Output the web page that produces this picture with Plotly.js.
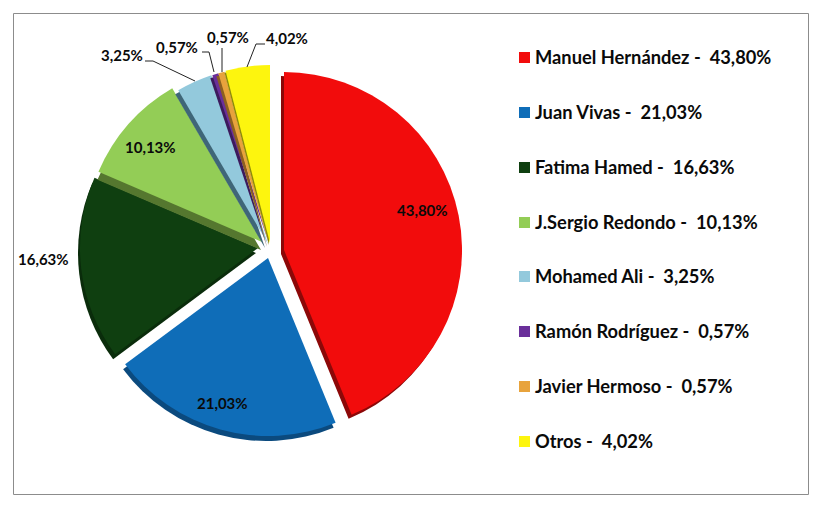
<!DOCTYPE html>
<html><head><meta charset="utf-8">
<script src="https://cdn.plot.ly/plotly-3.0.1.min.js"></script>
<style>html,body{margin:0;padding:0;background:#fff}#c{width:823px;height:511px}</style>
</head><body><div id="c"></div>
<script>
var W = 823, H = 511;
var names = ["Manuel Hernández","Juan Vivas","Fatima Hamed","J.Sergio Redondo","Mohamed Ali","Ramón Rodríguez","Javier Hermoso","Otros"];
var values = [43.80,21.03,16.63,10.13,3.25,0.57,0.57,4.02];
var colors = ["#f20c0c","#0f6db8","#0f3f10","#93cd56","#93c9dc","#6a2f9a","#e8a33c","#fdf50e"];
var shades = ["#8c0808","#0b4a7e","#0a2c0b","#55772f","#3f6678","#3c1a5c","#8c6020","#8f8a08"];
var centerX = [284,268,258,262,268,269,269,270];
var centerY = [250,258,248,242,244,244,244,243];
var shadowDX = [-3,-2,-2,-1,-3,-2,-2,-1];
var shadowDY = [4,5,5,8,4,3,3,2];
var labelX = [423,222,43,150,122,177,228,287];
var labelY = [210,403,259,147,55,47,37,38];
var legendY = [57,112,167,222,276,331,386,441];
var leaders = [null,null,null,null,
  [[145,61],[153,61],[195,81]],
  [[202,52],[209,52],[214,72]],
  [[222,48],[222,72]],
  [[265,44],[256,44],[247,67]]];

function fmt(v){ return v.toFixed(2).replace(".", ",") + "%"; }
function px(x){ return x / W; }
function py(y){ return 1 - y / H; }

var size = 356;
function dom(x, y){
  return {x:[px(x-size/2), px(x+size/2)], y:[py(y+size/2), py(y-size/2)]};
}
function slice(i, palette, x, y){
  var cols = names.map(function(n,k){ return k===i ? palette[i] : "rgba(0,0,0,0)"; });
  return {type:"pie", labels:names, values:values, sort:false, direction:"clockwise", rotation:0,
    textinfo:"none", hoverinfo:"skip", showlegend:false,
    marker:{colors:cols, line:{width:0}}, domain:dom(x,y)};
}

var traces = [], annotations = [], shapes = [];
shapes.push({type:"rect", xref:"paper", yref:"paper", x0:px(13.5), x1:px(808.5), y0:py(494.5), y1:py(13.5),
  line:{color:"#8c8c8c", width:1}, fillcolor:"rgba(0,0,0,0)"});
names.forEach(function(n,i){
  traces.push(slice(i, shades, centerX[i]+shadowDX[i], centerY[i]+shadowDY[i]));
  traces.push(slice(i, colors, centerX[i], centerY[i]));
  annotations.push({xref:"paper", yref:"paper", x:px(labelX[i]), y:py(labelY[i]), text:"<b>"+fmt(values[i])+"</b>",
    showarrow:false, xanchor:"center", yanchor:"middle", font:{family:"Lato", size:15, color:"#0a0a0a"}});
  annotations.push({xref:"paper", yref:"paper", x:px(533), y:py(legendY[i]),
    text:"<b>"+n+" -  "+fmt(values[i])+"</b>", showarrow:false, xanchor:"left", yanchor:"middle",
    font:{family:"Lato", size:18.3, color:"#0a0a0a"}});
  shapes.push({type:"rect", xref:"paper", yref:"paper", x0:px(519), x1:px(530), y0:py(legendY[i]+6), y1:py(legendY[i]-5),
    fillcolor:colors[i], line:{width:0}});
  if(leaders[i]){
    var p = leaders[i].map(function(q,k){ return (k?"L":"M")+px(q[0])+" "+py(q[1]); }).join(" ");
    shapes.push({type:"path", xref:"paper", yref:"paper", path:p, line:{color:"#222", width:1}});
  }
});

Plotly.newPlot("c", traces, {
  width:W, height:H, margin:{l:0,r:0,t:0,b:0,pad:0}, paper_bgcolor:"#fff", plot_bgcolor:"#fff",
  annotations:annotations, shapes:shapes, showlegend:false
}, {displayModeBar:false, staticPlot:true});
</script></body></html>
